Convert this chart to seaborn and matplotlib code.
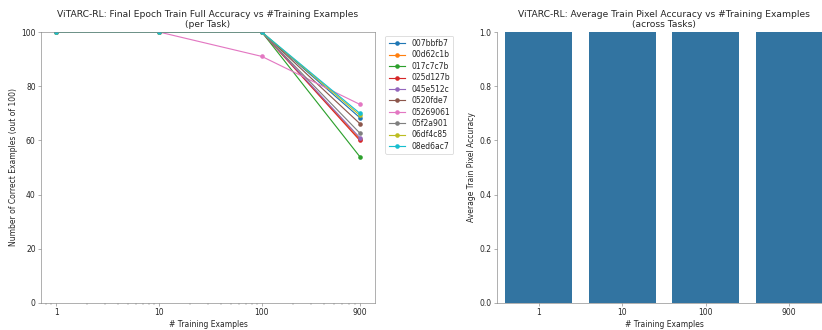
import matplotlib
matplotlib.use("Agg")
import matplotlib.pyplot as plt
import seaborn as sns
import pandas as pd
import numpy as np

train_sizes = [1, 10, 100, 900]
tasks = ["007bbfb7", "00d62c1b", "017c7c7b", "025d127b", "045e512c",
         "0520fde7", "05269061", "05f2a901", "06df4c85", "08ed6ac7"]
acc_007bbfb7 = [100, 100, 100, 68.4]
acc_00d62c1b = [100, 100, 100, 60.5]
acc_017c7c7b = [100, 100, 100, 54]
acc_025d127b = [100, 100, 100, 60]
acc_045e512c = [100, 100, 100, 61]
acc_0520fde7 = [100, 100, 100, 66.2]
acc_05269061 = [100, 100, 91, 73.3]
acc_05f2a901 = [100, 100, 100, 62.7]
acc_06df4c85 = [100, 100, 100, 69.3]
acc_08ed6ac7 = [100, 100, 100, 70]
series = [acc_007bbfb7, acc_00d62c1b, acc_017c7c7b, acc_025d127b, acc_045e512c,
          acc_0520fde7, acc_05269061, acc_05f2a901, acc_06df4c85, acc_08ed6ac7]
pixel_acc = [1.0, 1.0, 1.0, 1.0]

rows = []
for t, vals in zip(tasks, series):
    for n, v in zip(train_sizes, vals):
        rows.append({"task": t, "n": n, "acc": v})
df = pd.DataFrame(rows)
df_bar = pd.DataFrame({"n": [str(n) for n in train_sizes], "pix": pixel_acc})

spine_col = "0.5"
plt.rcParams["axes.edgecolor"] = spine_col
plt.rcParams["xtick.color"] = spine_col
plt.rcParams["ytick.color"] = spine_col
plt.rcParams["xtick.labelcolor"] = "0.15"
plt.rcParams["ytick.labelcolor"] = "0.15"
plt.rcParams["text.color"] = "0.15"
plt.rcParams["axes.labelcolor"] = "0.15"

DPI = 55
fig = plt.figure(figsize=(822 / DPI, 330 / DPI), dpi=DPI)
ax1 = fig.add_axes([41 / 822, 27 / 330, 334 / 822, 271 / 330])
ax2 = fig.add_axes([497 / 822, 27 / 330, 334 / 822, 271 / 330])

sns.lineplot(data=df, x="n", y="acc", hue="task", marker="o", palette="tab10",
             markeredgewidth=0, ax=ax1)
ax1.set_xscale("log")
ax1.set_xticks(train_sizes)
ax1.set_xticklabels([str(n) for n in train_sizes])
ax1.set_ylim(0, 100)
ax1.set_xlabel("# Training Examples")
ax1.set_ylabel("Number of Correct Examples (out of 100)")
ax1.set_title("ViTARC-RL: Final Epoch Train Full Accuracy vs #Training Examples\n(per Task)")
ax1.legend(bbox_to_anchor=(1.02, 1), loc="upper left", labelspacing=0.32,
           handlelength=2.2)

sns.barplot(data=df_bar, x="n", y="pix", color="C0", ax=ax2)
ax2.set_ylim(0, 1.0)
ax2.set_xlabel("# Training Examples")
ax2.set_ylabel("Average Train Pixel Accuracy")
ax2.set_title("ViTARC-RL: Average Train Pixel Accuracy vs #Training Examples\n(across Tasks)")
sns.despine(ax=ax2)

fig.savefig("out.png", dpi=DPI)
